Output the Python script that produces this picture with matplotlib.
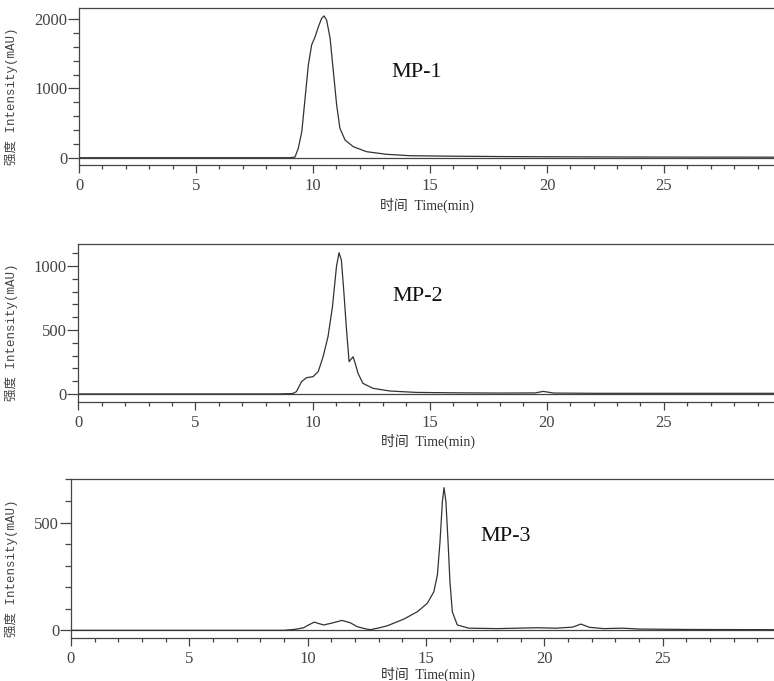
import matplotlib.pyplot as plt
from matplotlib.ticker import MultipleLocator

# MP-1 trace (time in min, intensity in mAU)
t1 = [0, 9.0, 9.23, 9.37, 9.52, 9.66, 9.80, 9.94, 10.09, 10.23, 10.37, 10.47,
      10.58, 10.73, 10.87, 11.01, 11.15, 11.37, 11.72, 12.29, 13.15, 14.15,
      16, 18, 20, 23, 26, 29.7]
v1 = [0, 0, 10, 135, 375, 857, 1338, 1626, 1746, 1890, 2011, 2045,
      1987, 1723, 1241, 760, 424, 255, 159, 87, 49, 29,
      22, 17, 14, 11, 9, 8]

# MP-2 trace
t2 = [0, 8.5, 9.15, 9.31, 9.53, 9.74, 10.02, 10.24, 10.45, 10.66, 10.85, 11.02,
      11.13, 11.23, 11.33, 11.45, 11.56, 11.73, 11.82, 11.94, 12.15, 12.58,
      13.3, 14.43, 16, 18, 19.5, 19.85, 20.3, 22, 25, 29.7]
v2 = [0, 0, 3, 18, 96, 127, 135, 174, 291, 448, 682, 995,
      1104, 1047, 812, 500, 252, 291, 240, 161, 83, 44,
      23, 12, 9, 7, 8, 20, 7, 5, 5, 5]

# MP-3 trace
t3 = [0, 9.0, 9.5, 9.83, 10.04, 10.28, 10.45, 10.68, 11.0, 11.45, 11.8, 12.09,
      12.4, 12.65, 13.0, 13.36, 14.06, 14.63, 15.05, 15.33, 15.48, 15.59, 15.69,
      15.76, 15.84, 15.93, 16.01, 16.11, 16.32, 16.8, 18, 19.7, 20.5, 21.2,
      21.54, 21.9, 22.5, 23.3, 24, 26, 29.7]
v3 = [0, 0, 5, 12, 25, 38, 32, 25, 33, 46, 35, 17,
      8, 3, 11, 21, 52, 86, 125, 179, 257, 411, 597,
      662, 597, 411, 226, 86, 25, 10, 8, 12, 10, 15,
      29, 14, 8, 10, 6, 4, 3]

names = ["MP-1", "MP-2", "MP-3"]
ylims = [(-105, 2160), (-65, 1172), (-37, 702)]
ymajor = [1000, 500, 500]
yminor = [200, 100, 100]

serif = ['Liberation Serif', 'Noto Sans CJK SC']
mono = ['Liberation Mono', 'Noto Sans CJK SC']

fig = plt.figure(figsize=(7.74, 6.81), dpi=100)

# axes boxes [left, bottom, width, height] in figure fraction
boxes = [[0.1021, 0.7577, 0.8979, 0.2306],
         [0.1012, 0.4093, 0.8988, 0.2324],
         [0.0917, 0.0627, 0.9083, 0.2339]]
ylab_x = [-0.0878, -0.0864, -0.0754]
xlab_pos = [(0.501, -0.255), (0.503, -0.249), (0.508, -0.228)]
name_pos = [(0.45, 0.586), (0.451, 0.667), (0.583, 0.638)]

traces = [(t1, v1), (t2, v2), (t3, v3)]
ink = '#333333'

for i in range(3):
    ax = fig.add_axes(boxes[i])
    t, v = traces[i]
    ax.axhline(0, color='#444444', lw=0.9)
    ax.plot(t, v, color=ink, lw=0.9)
    ax.set_xlim(0, 29.7)
    ax.set_ylim(*ylims[i])

    ax.spines['right'].set_visible(False)
    for s in ['top', 'left', 'bottom']:
        ax.spines[s].set_color('#444444')
        ax.spines[s].set_linewidth(0.9)

    ax.xaxis.set_major_locator(MultipleLocator(5))
    ax.xaxis.set_minor_locator(MultipleLocator(1))
    ax.yaxis.set_major_locator(MultipleLocator(ymajor[i]))
    ax.yaxis.set_minor_locator(MultipleLocator(yminor[i]))
    ax.tick_params(axis='x', which='major', length=5.5, width=0.9, pad=3.5,
                   colors='#444444', labelsize=12)
    ax.tick_params(axis='x', which='minor', length=2.7, width=0.9, colors='#444444')
    ax.tick_params(axis='y', which='major', length=8, width=0.9, pad=0.5,
                   colors='#444444', labelsize=12)
    ax.tick_params(axis='y', which='minor', length=4, width=0.9, colors='#444444')
    for lab in ax.get_xticklabels() + ax.get_yticklabels():
        lab.set_family(serif)
        lab.set_color('#444444')

    ax.set_ylabel('强度 Intensity(mAU)', family=mono, fontsize=9, color='#444444')
    ax.yaxis.set_label_coords(ylab_x[i], 0.44)
    ax.set_xlabel('时间  Time(min)', family=serif, fontsize=10, color='#333333')
    ax.xaxis.label.set_va('center')
    ax.xaxis.set_label_coords(*xlab_pos[i])

    ax.text(name_pos[i][0], name_pos[i][1], names[i], transform=ax.transAxes,
            family=serif, fontsize=16, color='#111111', va='center', ha='left')

fig.savefig('out.png', dpi=100)
